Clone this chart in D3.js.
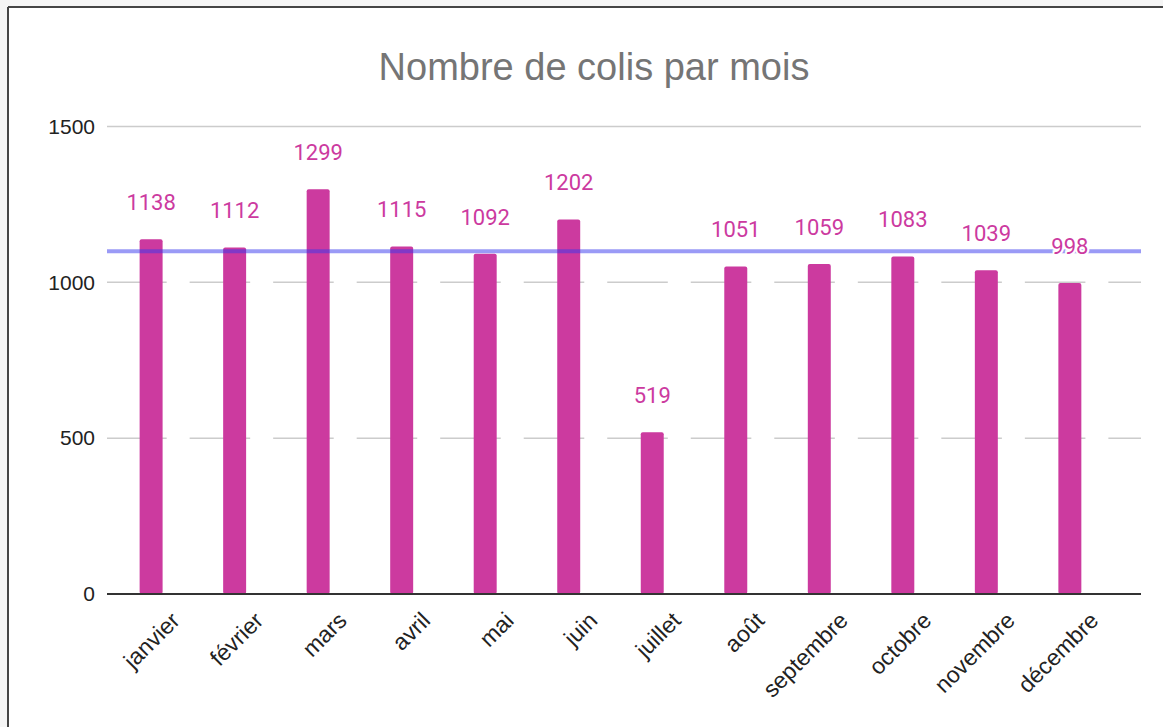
<!DOCTYPE html>
<html>
<head>
<meta charset="utf-8">
<script src="https://cdn.jsdelivr.net/npm/d3@7"></script>
<style>
  body { margin: 0; background: #f5f5f5; }
  svg { display: block; }
</style>
</head>
<body>
<svg id="chart" width="1163" height="727"></svg>
<script>
var mois = ["janvier", "février", "mars", "avril", "mai", "juin",
  "juillet", "août", "septembre", "octobre", "novembre", "décembre"];
var colis = [1138, 1112, 1299, 1115, 1092, 1202, 519, 1051, 1059, 1083, 1039, 998];
var moyenne = 1100;
var yTicks = [0, 500, 1000, 1500];
var titre = "Nombre de colis par mois";

var svg = d3.select("#chart");
var plotLeft = 107, plotRight = 1141, plotTop = 126.5, plotBottom = 594;

// cadre
svg.append("rect").attr("x", 0).attr("y", 0).attr("width", 1163).attr("height", 727).attr("fill", "#f5f5f5");
svg.append("rect").attr("x", 8).attr("y", 7).attr("width", 1163).attr("height", 727).attr("fill", "#fff");
svg.append("line").attr("x1", 8).attr("x2", 1163).attr("y1", 7).attr("y2", 7).attr("stroke", "#454545").attr("stroke-width", 2);
svg.append("line").attr("x1", 8).attr("x2", 8).attr("y1", 7).attr("y2", 727).attr("stroke", "#454545").attr("stroke-width", 2);

var x = d3.scaleBand().domain(mois).range([plotLeft, plotRight]).paddingInner(0).paddingOuter(0.19);
var x1 = d3.scaleBand().domain(["colis", "masque"]).range([0, x.bandwidth()]).paddingInner(0.15).paddingOuter(0.62);
var y = d3.scaleLinear().domain([0, 1500]).range([plotBottom, plotTop]);

// titre
svg.append("text")
  .attr("x", 594)
  .attr("y", 80)
  .attr("text-anchor", "middle")
  .style("font-family", "'Liberation Sans', Arial, sans-serif")
  .style("font-size", "38px")
  .attr("fill", "#757575")
  .text(titre);

// grille
svg.append("g").selectAll("line")
  .data(yTicks.filter(function (d) { return d > 0; }))
  .enter().append("line")
  .attr("x1", plotLeft).attr("x2", plotRight)
  .attr("y1", function (d) { return y(d); })
  .attr("y2", function (d) { return y(d); })
  .attr("stroke", "#cccccc")
  .attr("stroke-width", 1.5);

// axe y
var yAxis = d3.axisLeft(y).tickValues(yTicks).tickSize(0).tickPadding(12).tickFormat(d3.format("d"));
var gy = svg.append("g").attr("transform", "translate(" + plotLeft + ",0)").call(yAxis);
gy.select(".domain").remove();
gy.selectAll("text")
  .style("font-family", "'Liberation Sans', Arial, sans-serif")
  .style("font-size", "21px")
  .attr("fill", "#222");

// barres blanches (2e série)
svg.append("g").selectAll("rect")
  .data(mois)
  .enter().append("rect")
  .attr("x", function (d) { return x(d) + x1("masque"); })
  .attr("y", y(moyenne))
  .attr("width", x1.bandwidth())
  .attr("height", plotBottom - y(moyenne))
  .attr("fill", "#fff");

// barres
svg.append("g").selectAll("rect")
  .data(colis)
  .enter().append("rect")
  .attr("x", function (d, i) { return x(mois[i]) + x1("colis"); })
  .attr("y", function (d) { return y(d); })
  .attr("width", x1.bandwidth())
  .attr("height", function (d) { return plotBottom - y(d); })
  .attr("rx", 2)
  .attr("fill", "#cc3a9f");

// axe x
var xAxis = d3.axisBottom(x).tickSize(0).tickPadding(0);
var gx = svg.append("g").attr("transform", "translate(0," + plotBottom + ")").call(xAxis);
gx.select(".domain").remove();
gx.append("line").attr("x1", plotLeft).attr("x2", plotRight).attr("y1", 0).attr("y2", 0)
  .attr("stroke", "#333").attr("stroke-width", 2);
gx.selectAll(".tick text")
  .style("font-family", "'Liberation Sans', Arial, sans-serif")
  .style("font-size", "23px")
  .attr("fill", "#222")
  .attr("text-anchor", "end")
  .attr("dy", 0)
  .attr("transform", "translate(" + (x1("colis") + x1.bandwidth() / 2 - x.bandwidth() / 2 + 30) + ",28) rotate(-45)");

// ligne de moyenne
svg.append("line")
  .attr("x1", plotLeft).attr("x2", plotRight)
  .attr("y1", y(moyenne)).attr("y2", y(moyenne))
  .attr("stroke", "#3535ee")
  .attr("stroke-opacity", 0.5)
  .attr("stroke-width", 4);

// étiquettes
svg.append("g").selectAll("text")
  .data(colis)
  .enter().append("text")
  .attr("x", function (d, i) { return x(mois[i]) + x1("colis") + x1.bandwidth() / 2; })
  .attr("y", function (d) { return y(d) - 29; })
  .attr("text-anchor", "middle")
  .style("font-family", "Roboto, sans-serif")
  .style("font-size", "22px")
  .attr("fill", "#cc3a9f")
  .attr("stroke", "#fff")
  .attr("stroke-width", 4)
  .style("paint-order", "stroke")
  .text(function (d) { return d; });
</script>
</body>
</html>
